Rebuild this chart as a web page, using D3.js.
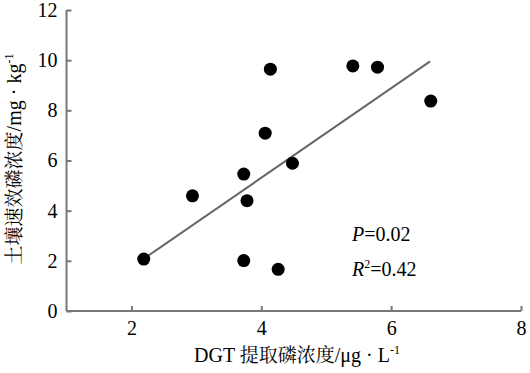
<!DOCTYPE html>
<html>
<head>
<meta charset="utf-8">
<script src="https://cdn.jsdelivr.net/npm/d3@7"></script>
<style>
  body { margin: 0; background: #fff; }
  svg { display: block; }
</style>
</head>
<body>
<svg id="svg" width="530" height="373"></svg>
<script>
// DGT-extracted P (µg/L) vs soil available P (mg/kg)
const dgtP  = [2.19, 2.94, 3.73, 3.78, 4.06, 4.14, 4.48, 3.73, 4.26, 5.41, 5.79, 6.61]
const soilP = [2.07, 4.59, 5.46, 4.40, 7.09, 9.64, 5.89, 2.01, 1.66, 9.77, 9.72, 8.37]
const fitX = [2.2, 6.6]
const fitY = [2.1, 9.95]
const xTicks = [2, 4, 6, 8]
const yTicks = [0, 2, 4, 6, 8, 10, 12]

const svg = d3.select("#svg")
const serif = "'Liberation Serif', 'Times New Roman', serif"
const cjk = "'Noto Serif CJK SC', 'Noto Sans CJK SC', serif"

const x = d3.scaleLinear().domain([1, 8]).range([66.5, 521])
const y = d3.scaleLinear().domain([0, 12]).range([311, 10])

const axisColor = "#777"

// axes: ticks point inward
const xAxis = svg.append("g")
    .attr("transform", `translate(0,${y(0)})`)
    .call(d3.axisBottom(x).tickValues(xTicks).tickFormat(d3.format("d")).tickSize(-5).tickPadding(10))
const yAxis = svg.append("g")
    .attr("transform", `translate(${x(1)},0)`)
    .call(d3.axisLeft(y).tickValues(yTicks).tickFormat(d3.format("d")).tickSize(-5).tickPadding(9))

for (const ax of [xAxis, yAxis]) {
  ax.select(".domain").attr("stroke", axisColor).attr("stroke-width", 2)
  ax.selectAll(".tick line").attr("stroke", axisColor).attr("stroke-width", 2)
  ax.selectAll(".tick text")
    .attr("fill", "#000")
    .style("font-family", serif)
    .style("font-size", "20px")
}
yAxis.select(".domain").attr("d", `M0,${y(12)}V${y(0)}`)
xAxis.select(".domain").attr("d", `M${x(1)},0H${x(8)}`)

// regression line
svg.append("line")
    .attr("x1", x(fitX[0])).attr("y1", y(fitY[0]))
    .attr("x2", x(fitX[1])).attr("y2", y(fitY[1]))
    .attr("stroke", "#666")
    .attr("stroke-width", 2)

// points
svg.append("g")
  .selectAll("circle")
  .data(dgtP.map((d, i) => [d, soilP[i]]))
  .join("circle")
    .attr("cx", d => x(d[0]))
    .attr("cy", d => y(d[1]))
    .attr("r", 6.5)
    .attr("fill", "#000")

// stats
const stats = svg.append("g").style("font-family", serif).style("font-size", "20px").attr("fill", "#000")
const p = stats.append("text").attr("x", 352).attr("y", 241)
p.append("tspan").style("font-style", "italic").text("P")
p.append("tspan").text("=0.02")
const r = stats.append("text").attr("x", 352).attr("y", 276)
r.append("tspan").style("font-style", "italic").text("R")
r.append("tspan").attr("dy", -8).style("font-size", "12px").text("2")
r.append("tspan").attr("dy", 8).text("=0.42")

// axis titles: latin parts in serif, chinese in CJK
function title(sel, parts) {
  for (const [txt, font, size, dy] of parts) {
    sel.append("tspan")
      .attr("dy", dy)
      .style("font-family", font)
      .style("font-size", size)
      .text(txt)
  }
}

const xt = svg.append("text")
    .attr("x", 297).attr("y", 362)
    .attr("text-anchor", "middle")
    .attr("fill", "#000")
title(xt, [["DGT ", serif, "20px", 0], ["提取磷浓度", cjk, "19px", 0],
           ["/μg · L", serif, "20px", 0], ["-1", serif, "12px", -8]])

const yt = svg.append("text")
    .attr("transform", "translate(21,159) rotate(-90)")
    .attr("text-anchor", "middle")
    .attr("fill", "#000")
title(yt, [["土壤速效磷浓度", cjk, "19px", 0],
           ["/mg · kg", serif, "20px", 0], ["-1", serif, "12px", -8]])
</script>
</body>
</html>
